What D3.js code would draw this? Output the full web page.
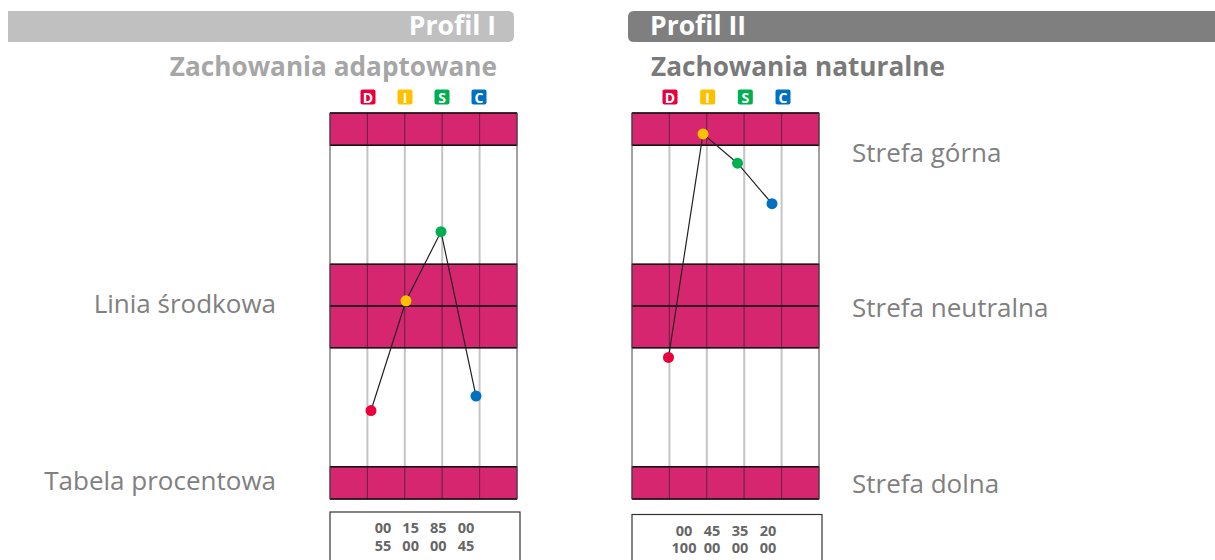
<!DOCTYPE html>
<html>
<head>
<meta charset="utf-8">
<script src="https://cdn.jsdelivr.net/npm/d3@7"></script>
<style>
  body { margin: 0; background: #fff; }
  svg { display: block; font-family: "Open Sans", sans-serif; }
</style>
</head>
<body>
<div class="chart"></div>
<script>
// DISC profile data
var discLetters = ["D", "I", "S", "C"];
var discColors = ["#e8003d", "#ffc000", "#00b050", "#0070c0"];
var profileTitles = ["Profil I", "Profil II"];
var profileSubtitles = ["Zachowania adaptowane", "Zachowania naturalne"];
var adaptedValues = [-3.25, 0.16, 2.31, -2.8];
var naturalValues = [-1.6, 5.35, 4.44, 3.18];
var adaptedTable = [["00", "15", "85", "00"], ["55", "00", "00", "45"]];
var naturalTable = [["00", "45", "35", "20"], ["100", "00", "00", "00"]];
var leftLabels = ["Linia środkowa", "Tabela procentowa"];
var rightLabels = ["Strefa górna", "Strefa neutralna", "Strefa dolna"];
var pinkBands = [[6, 5], [1.3, 0], [0, -1.3], [-5, -6]];
var columnCount = 5;

var width = 1215, height = 560;
var pink = "#d62670";

var svg = d3.select(".chart")
    .append("svg")
    .attr("width", width)
    .attr("height", height);

var y = d3.scaleLinear().domain([-6, 6]).range([499, 113]);

var panels = [
    { box: [330, 517], dots: [371, 476], badges: [368, 479], table: [383, 466], tableTop: 512,
      values: adaptedValues, rows: adaptedTable },
    { box: [632, 819], dots: [668.5, 772], badges: [670, 783], table: [684, 768], tableTop: 514.5,
      values: naturalValues, rows: naturalTable }
];

// header bars
svg.append("path")
    .attr("d", "M8,11 H508 Q514,11 514,17 V36 Q514,42 508,42 H8 Z")
    .attr("fill", "#c0c0c0");
svg.append("path")
    .attr("d", "M634,11 H1220 V42 H634 Q628,42 628,36 V17 Q628,11 634,11 Z")
    .attr("fill", "#7f7f7f");

svg.append("text").attr("x", 496).attr("y", 35).attr("text-anchor", "end")
    .attr("font-size", 26.5).attr("font-weight", 700).attr("fill", "#fff")
    .text(profileTitles[0]);
svg.append("text").attr("x", 650).attr("y", 35)
    .attr("font-size", 26.5).attr("font-weight", 700).attr("fill", "#fff")
    .text(profileTitles[1]);

svg.append("text").attr("x", 497).attr("y", 76).attr("text-anchor", "end")
    .attr("font-size", 26.2).attr("font-weight", 700).attr("fill", "#a6a6a6")
    .text(profileSubtitles[0]);
svg.append("text").attr("x", 651).attr("y", 76)
    .attr("font-size", 26.2).attr("font-weight", 700).attr("fill", "#7a7a7a")
    .text(profileSubtitles[1]);

panels.forEach(function(p) {
    var g = svg.append("g");
    var col = d3.scaleLinear().domain([0, columnCount]).range(p.box);
    var xDot = d3.scalePoint().domain(discLetters).range(p.dots);
    var xBadge = d3.scalePoint().domain(discLetters).range(p.badges);
    var xTable = d3.scalePoint().domain(d3.range(4)).range(p.table);

    // badges
    var badge = g.selectAll(".badge").data(discLetters).enter().append("g")
        .attr("transform", function(d) { return "translate(" + xBadge(d) + ",97)"; });
    badge.append("rect")
        .attr("x", -7.5).attr("y", -7.5).attr("width", 15).attr("height", 15)
        .attr("rx", 2).attr("fill", function(d, i) { return discColors[i]; });
    badge.append("text")
        .attr("y", 5.5).attr("text-anchor", "middle")
        .attr("font-size", 14).attr("font-weight", 700).attr("fill", "#fff")
        .text(function(d) { return d; });

    // white background
    g.append("rect")
        .attr("x", p.box[0]).attr("y", y(6))
        .attr("width", p.box[1] - p.box[0]).attr("height", y(-6) - y(6))
        .attr("fill", "#fff");

    // light vertical lines in white zones
    g.selectAll(".vline").data(d3.range(1, columnCount)).enter().append("line")
        .attr("x1", function(d) { return col(d); })
        .attr("x2", function(d) { return col(d); })
        .attr("y1", y(6)).attr("y2", y(-6))
        .style("stroke", "#c4c4c4").style("stroke-width", 2);

    // pink band cells
    pinkBands.forEach(function(b) {
        g.selectAll(null).data(d3.range(columnCount)).enter().append("rect")
            .attr("x", function(d) { return col(d); })
            .attr("y", y(b[0]))
            .attr("width", col(1) - col(0))
            .attr("height", y(b[1]) - y(b[0]))
            .style("fill", pink)
            .style("stroke", "#6e2345")
            .style("stroke-width", 1);
    });

    // horizontal zone borders
    g.selectAll(".hline").data([6, 5, 1.3, 0, -1.3, -5, -6]).enter().append("line")
        .attr("x1", p.box[0]).attr("x2", p.box[1])
        .attr("y1", function(d) { return y(d); })
        .attr("y2", function(d) { return y(d); })
        .style("stroke", "#111").style("stroke-width", 1.5);

    // box sides
    g.selectAll(".side").data(p.box).enter().append("line")
        .attr("x1", function(d) { return d; }).attr("x2", function(d) { return d; })
        .attr("y1", y(6)).attr("y2", y(-6))
        .style("stroke", "#444").style("stroke-width", 1);

    // profile line and dots
    var line = d3.line()
        .x(function(d, i) { return xDot(discLetters[i]); })
        .y(function(d) { return y(d); });
    g.append("path").datum(p.values)
        .attr("d", line)
        .style("fill", "none").style("stroke", "#222").style("stroke-width", 1.2);
    g.selectAll(".dot").data(p.values).enter().append("circle")
        .attr("cx", function(d, i) { return xDot(discLetters[i]); })
        .attr("cy", function(d) { return y(d); })
        .attr("r", 5.5)
        .style("fill", function(d, i) { return discColors[i]; });

    // percentage table
    g.append("rect")
        .attr("x", p.box[0]).attr("y", p.tableTop)
        .attr("width", 190).attr("height", 80)
        .style("fill", "#fff").style("stroke", "#333").style("stroke-width", 1.2);
    p.rows.forEach(function(row, r) {
        g.selectAll(null).data(row).enter().append("text")
            .attr("x", function(d, i) { return xTable(i); })
            .attr("y", p.tableTop + 21 + r * 17.5)
            .attr("text-anchor", "middle")
            .attr("font-size", 14.5).attr("font-weight", 700).attr("fill", "#666")
            .text(function(d) { return d; });
    });
});

// zone labels
svg.selectAll(".lbl-left").data(leftLabels).enter().append("text")
    .attr("x", 276)
    .attr("y", function(d, i) { return [313, 490][i]; })
    .attr("text-anchor", "end")
    .attr("font-size", 26).attr("fill", "#808080")
    .text(function(d) { return d; });

svg.selectAll(".lbl-right").data(rightLabels).enter().append("text")
    .attr("x", 852)
    .attr("y", function(d, i) { return [162, 317, 493][i]; })
    .attr("font-size", 26).attr("fill", "#808080")
    .text(function(d) { return d; });
</script>
</body>
</html>
